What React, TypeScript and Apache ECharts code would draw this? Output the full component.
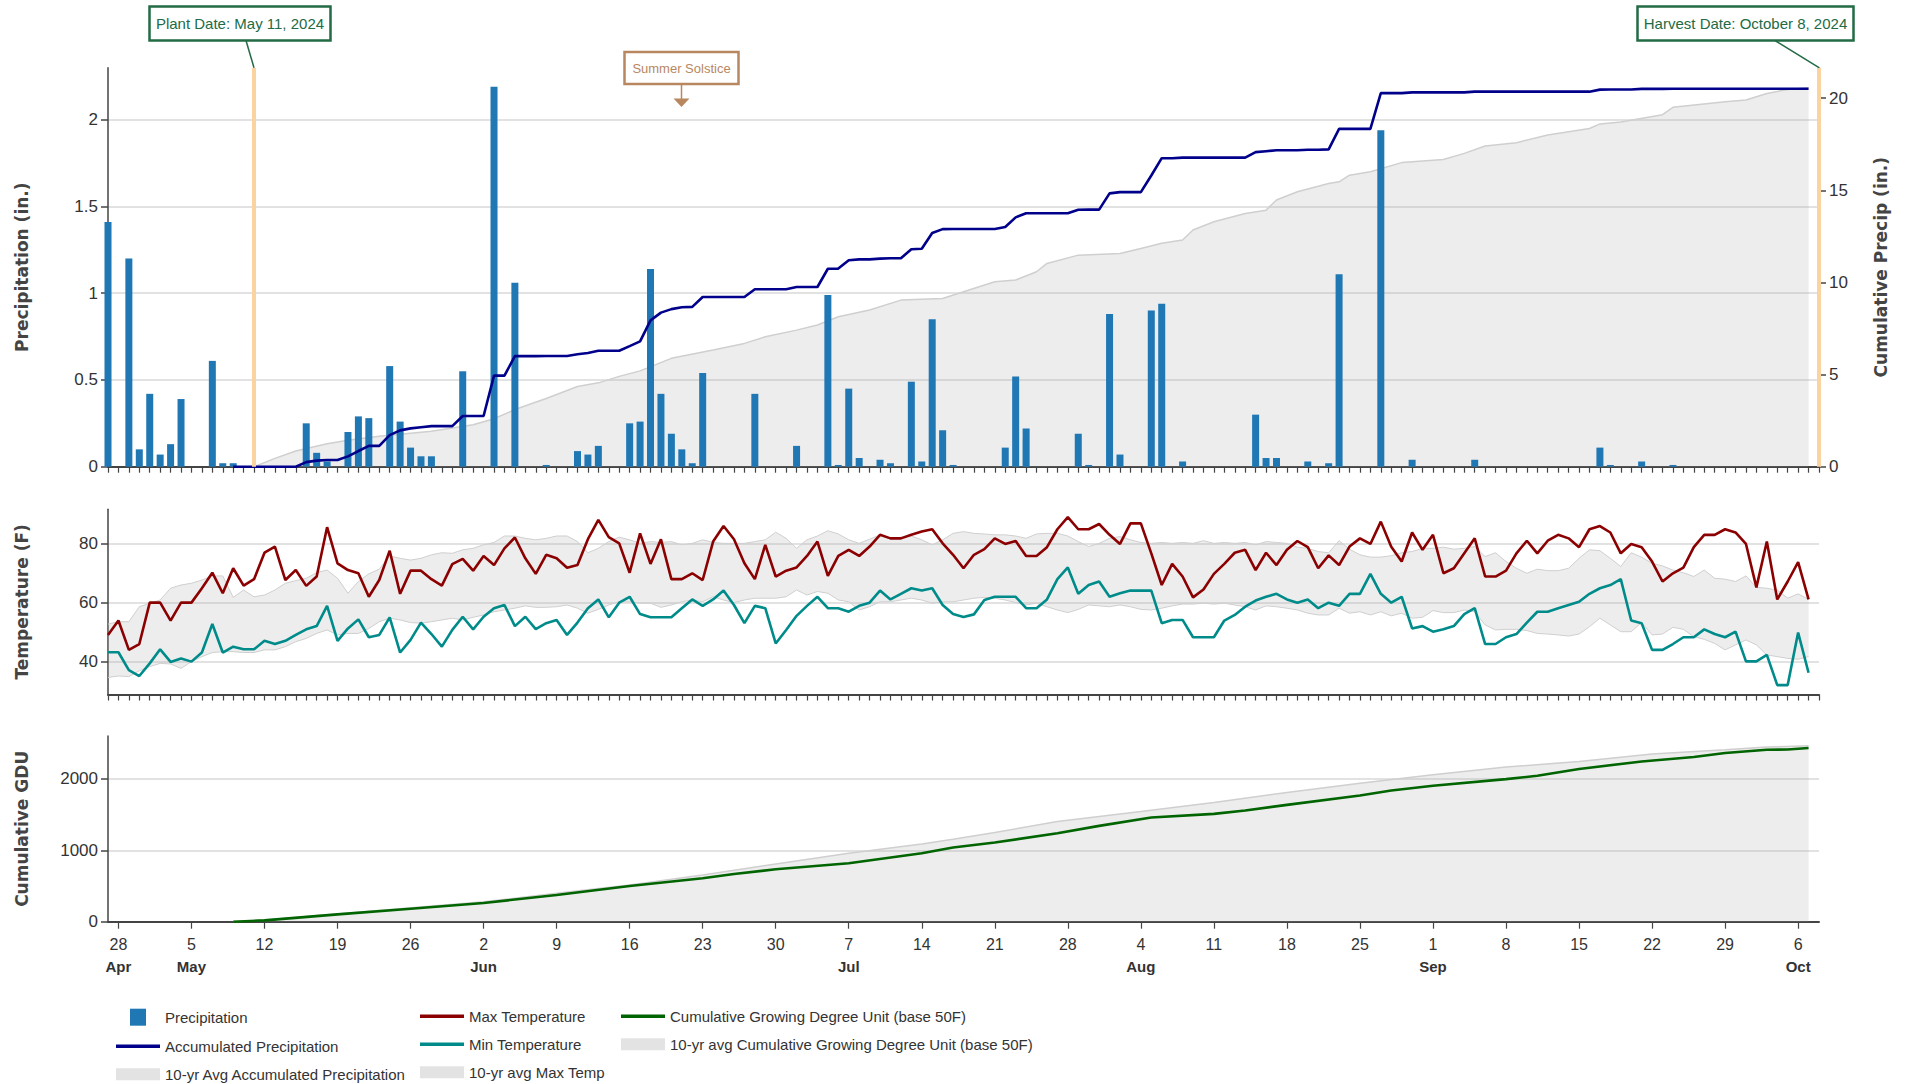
import React, { useEffect, useRef } from "react";
import * as echarts from "echarts";

// ---------- categories (daily, Apr 27 – Oct 8, 2024) ----------
const START_DAY = Date.UTC(2024, 3, 27);
const N_DAYS = 165;
const categories: string[] = Array.from({ length: N_DAYS }, (_, i) =>
  new Date(START_DAY + i * 86400000).toISOString().slice(0, 10)
);
const MONTHS = ["Jan", "Feb", "Mar", "Apr", "May", "Jun", "Jul", "Aug", "Sep", "Oct", "Nov", "Dec"];

// ---------- precipitation panel ----------
const precipitation = [
  1.41, 0, 1.2, 0.1, 0.42, 0.07, 0.13, 0.39, 0, 0,
  0.61, 0.02, 0.02, 0, 0, 0, 0, 0, 0, 0.25,
  0.08, 0.03, 0, 0.2, 0.29, 0.28, 0, 0.58, 0.26, 0.11,
  0.06, 0.06, 0, 0, 0.55, 0, 0, 2.19, 0, 1.06,
  0, 0, 0.01, 0, 0, 0.09, 0.07, 0.12, 0, 0,
  0.25, 0.26, 1.14, 0.42, 0.19, 0.1, 0.02, 0.54, 0, 0,
  0, 0, 0.42, 0, 0, 0, 0.12, 0, 0, 0.99,
  0.01, 0.45, 0.05, 0, 0.04, 0.02, 0, 0.49, 0.03, 0.85,
  0.21, 0.01, 0, 0, 0, 0, 0.11, 0.52, 0.22, 0,
  0, 0, 0, 0.19, 0.01, 0, 0.88, 0.07, 0, 0,
  0.9, 0.94, 0, 0.03, 0, 0, 0, 0, 0, 0,
  0.3, 0.05, 0.05, 0, 0, 0.03, 0, 0.02, 1.11, 0,
  0, 0, 1.94, 0, 0, 0.04, 0, 0, 0, 0,
  0, 0.04, 0, 0, 0, 0, 0, 0, 0, 0,
  0, 0, 0, 0.11, 0.01, 0, 0, 0.03, 0, 0,
  0.01, 0, 0, 0, 0, 0, 0, 0, 0, 0,
  0, 0, 0, 0,
];

const accPrecipStart = 12;
const accPrecipitation = [
  0, 0, 0, 0, 0, 0, 0, 0.25,
  0.33, 0.36, 0.36, 0.56, 0.85, 1.13, 1.13, 1.71, 1.97, 2.08,
  2.14, 2.2, 2.2, 2.2, 2.75, 2.75, 2.75, 4.94, 4.94, 6.0,
  6.0, 6.0, 6.01, 6.01, 6.01, 6.1, 6.17, 6.29, 6.29, 6.29,
  6.54, 6.8, 7.94, 8.36, 8.55, 8.65, 8.67, 9.21, 9.21, 9.21,
  9.21, 9.21, 9.63, 9.63, 9.63, 9.63, 9.75, 9.75, 9.75, 10.74,
  10.75, 11.2, 11.25, 11.25, 11.29, 11.31, 11.31, 11.8, 11.83, 12.68,
  12.89, 12.9, 12.9, 12.9, 12.9, 12.9, 13.01, 13.53, 13.75, 13.75,
  13.75, 13.75, 13.75, 13.94, 13.95, 13.95, 14.83, 14.9, 14.9, 14.9,
  15.8, 16.74, 16.74, 16.77, 16.77, 16.77, 16.77, 16.77, 16.77, 16.77,
  17.07, 17.12, 17.17, 17.17, 17.17, 17.2, 17.2, 17.22, 18.33, 18.33,
  18.33, 18.33, 20.27, 20.27, 20.27, 20.31, 20.31, 20.31, 20.31, 20.31,
  20.31, 20.35, 20.35, 20.35, 20.35, 20.35, 20.35, 20.35, 20.35, 20.35,
  20.35, 20.35, 20.35, 20.46, 20.47, 20.47, 20.47, 20.5, 20.5, 20.5,
  20.51, 20.51, 20.51, 20.51, 20.51, 20.51, 20.51, 20.51, 20.51, 20.51,
  20.51, 20.51, 20.51, 20.51,
];

// [day index, inches]
const avgAccPrecipitation: [number, number][] = [
  [14, 0], [16, 0.45], [18, 0.85], [21, 1.25], [23, 1.43], [26, 1.65], [31, 1.92], [35, 2.28],
  [37, 2.6], [39, 3.1], [42, 3.7], [45, 4.35], [47, 4.55], [49, 4.9], [51, 5.2], [54, 5.88],
  [58, 6.33], [61, 6.69], [63, 7.05], [66, 7.41], [68, 7.69], [70, 8.14], [73, 8.5], [76, 9.04],
  [80, 9.13], [82, 9.49], [85, 10.04], [87, 10.13], [89, 10.58], [90, 11.03], [93, 11.48],
  [97, 11.57], [99, 11.84], [101, 12.12], [103, 12.3], [104, 12.84], [106, 13.29], [109, 13.74],
  [111, 13.92], [112, 14.47], [114, 14.92], [117, 15.37], [118, 15.46], [119, 15.82], [121, 16.0],
  [124, 16.5], [128, 16.67], [130, 17.0], [132, 17.4], [135, 17.58], [138, 18.0], [142, 18.35],
  [143, 18.6], [145, 18.7], [149, 19.1], [150, 19.5], [155, 19.8], [157, 19.9], [159, 20.25],
  [161, 20.47], [163, 20.56],
];

// ---------- temperature panel ----------
const maxTemp = [
  49.0, 53.9, 43.9, 45.9, 60, 60, 53.9, 60, 60, 64.9,
  70.2, 63.2, 71.7, 65.8, 68.0, 77.0, 79.1, 67.7, 71.1, 65.7,
  68.9, 85.7, 73.4, 71.1, 70.0, 62.0, 67.7, 77.7, 63.0, 70.9,
  70.9, 68.0, 65.8, 73.1, 74.9, 70.9, 75.9, 72.8, 78.5, 82.2,
  75.1, 69.8, 76.3, 75.1, 71.9, 72.8, 81.6, 88.2, 82.3, 80.2,
  70.2, 83.6, 73.2, 81.6, 68.0, 68.0, 70.0, 67.7, 80.8, 86.1,
  81.6, 73.4, 68.0, 79.7, 68.9, 70.9, 72.0, 75.9, 80.8, 69.1,
  75.9, 78.0, 75.9, 79.1, 83.1, 81.9, 81.9, 83.1, 84.2, 85.0,
  80.2, 76.3, 71.7, 76.3, 78.2, 81.9, 80.0, 81.0, 75.9, 75.9,
  78.9, 85.0, 89.1, 85.0, 85.0, 86.8, 83.1, 80.0, 87.0, 87.0,
  76.8, 66.0, 73.2, 68.9, 61.8, 64.5, 69.8, 73.2, 77.0, 78.0,
  71.1, 77.0, 72.8, 78.0, 81.0, 78.9, 71.7, 76.1, 72.8, 79.1,
  81.9, 80.0, 87.6, 79.0, 74.0, 83.9, 78.0, 83.1, 70.0, 71.7,
  76.8, 81.9, 68.9, 68.9, 70.9, 76.8, 81.1, 76.8, 81.1, 83.1,
  81.9, 78.9, 85.0, 86.1, 83.9, 76.8, 80.0, 78.9, 74.0, 67.2,
  70.0, 71.9, 78.9, 83.1, 83.1, 85.0, 83.9, 80.0, 65.2, 80.8,
  61.1, 67.2, 73.8, 61.1,
];

const minTemp = [
  43.1, 43.1, 37.0, 35.0, 39.3, 44.1, 39.8, 41.0, 39.9, 43.0,
  52.7, 43.0, 45.0, 44.1, 44.1, 47.0, 45.9, 47.0, 49.0, 50.9,
  52.0, 58.9, 47.0, 51.2, 54.3, 48.2, 49.0, 55.0, 43.0, 47.3,
  53.2, 49.3, 45.0, 50.7, 55.2, 50.9, 55.2, 58.1, 59.2, 52.0,
  55.2, 51.0, 53.0, 54.1, 49.0, 53.2, 58.1, 61.1, 55.0, 60.0,
  62.0, 56.1, 55.0, 55.0, 55.0, 58.1, 61.1, 58.9, 61.1, 64.1,
  59.2, 53.0, 58.9, 58.1, 46.1, 50.7, 55.5, 58.9, 62.0, 58.1,
  58.1, 56.9, 58.9, 60.0, 64.1, 61.1, 63.0, 64.9, 64.1, 64.9,
  59.2, 56.1, 55.1, 56.0, 60.9, 62.0, 62.0, 62.0, 58.1, 58.1,
  61.1, 68.0, 72.0, 63.0, 66.0, 67.2, 62.0, 63.2, 64.1, 64.1,
  64.1, 53.0, 54.1, 54.1, 48.2, 48.2, 48.2, 53.9, 55.8, 58.6,
  60.7, 62.0, 63.0, 61.1, 60.0, 61.1, 58.1, 60.0, 58.9, 63.0,
  63.0, 69.8, 63.0, 60.0, 62.0, 51.2, 52.0, 50.1, 50.9, 52.0,
  56.1, 58.1, 45.9, 45.9, 48.2, 49.3, 53.2, 56.9, 56.9, 58.1,
  59.2, 60.3, 63.0, 64.9, 66.0, 68.0, 53.9, 53.0, 43.9, 43.9,
  45.9, 48.2, 48.2, 50.9, 49.3, 48.2, 50.1, 40.0, 40.0, 42.2,
  31.9, 31.9, 49.8, 36.1,
];

const avgTempUpper = [
  52.7, 53.5, 53.5, 58.6, 59.8, 60.9, 64.9, 66.0, 66.6, 67.7,
  69.1, 69.1, 61.8, 64.3, 62.0, 62.6, 64.3, 66.6, 67.5, 68.3,
  70.2, 71.1, 68.3, 63.2, 67.2, 69.8, 71.4, 75.9, 75.1, 74.5,
  75.1, 76.3, 77.0, 76.8, 78.0, 78.5, 79.7, 80.5, 82.7, 82.7,
  81.9, 81.4, 81.9, 82.7, 82.7, 80.8, 77.0, 78.5, 80.8, 82.3,
  81.4, 80.2, 80.8, 80.5, 80.8, 79.7, 80.2, 81.4, 80.5, 80.2,
  80.2, 80.2, 80.8, 81.4, 84.0, 81.9, 78.5, 81.4, 82.7, 84.5,
  83.4, 81.4, 80.2, 81.6, 83.1, 81.6, 82.3, 82.7, 81.4, 79.7,
  81.4, 83.6, 84.2, 83.6, 83.4, 83.1, 83.1, 82.7, 81.9, 83.4,
  83.6, 83.6, 82.7, 80.8, 79.1, 80.2, 81.9, 82.5, 81.4, 80.5,
  80.2, 80.5, 80.2, 80.5, 80.2, 81.1, 80.2, 80.5, 80.2, 80.5,
  79.7, 80.8, 80.5, 80.2, 78.9, 78.5, 77.4, 77.0, 81.1, 78.2,
  76.3, 75.5, 75.5, 76.0, 77.0, 77.4, 78.5, 78.5, 78.9, 78.2,
  78.5, 79.1, 75.7, 77.0, 74.0, 71.7, 70.0, 71.4, 70.9, 70.9,
  71.7, 75.1, 78.0, 77.7, 75.1, 72.3, 77.0, 75.5, 73.4, 72.5,
  71.1, 70.2, 68.9, 71.1, 68.3, 68.0, 67.2, 69.1, 65.2, 64.9,
  64.3, 61.5, 63.0, 61.1,
];

const avgTempLower = [
  34.5, 35.0, 34.8, 36.8, 38.2, 39.3, 39.1, 37.6, 39.9, 41.6,
  43.0, 43.3, 43.3, 43.0, 43.0, 43.9, 43.9, 45.0, 46.7, 47.8,
  49.5, 50.7, 49.0, 49.5, 49.5, 51.2, 53.5, 54.7, 54.1, 53.2,
  53.0, 53.5, 54.1, 54.7, 54.1, 55.0, 55.8, 56.9, 57.5, 58.1,
  58.9, 58.4, 58.4, 58.6, 59.2, 58.1, 56.4, 57.7, 59.2, 60.3,
  60.3, 59.8, 59.8, 58.4, 59.2, 60.3, 60.9, 60.3, 62.0, 60.9,
  60.0, 60.9, 61.5, 61.5, 61.5, 62.0, 64.3, 62.6, 63.8, 63.2,
  60.9, 60.3, 57.5, 58.6, 60.3, 60.3, 60.9, 61.5, 60.9, 59.8,
  60.3, 60.3, 60.9, 61.5, 61.8, 61.5, 60.9, 60.0, 59.2, 59.8,
  58.6, 57.5, 56.6, 57.7, 59.2, 58.9, 58.6, 59.2, 58.6, 57.7,
  57.5, 58.1, 58.9, 59.5, 59.5, 59.8, 59.5, 59.8, 59.2, 58.6,
  57.5, 58.9, 58.6, 58.1, 57.5, 56.4, 55.8, 55.8, 58.1, 56.4,
  56.9, 55.8, 56.9, 55.5, 56.4, 54.7, 55.0, 57.3, 56.6, 56.6,
  57.5, 56.9, 52.4, 50.7, 50.9, 50.9, 50.5, 49.5, 49.3, 49.0,
  48.6, 49.3, 51.8, 54.7, 52.4, 50.1, 50.1, 53.2, 49.0, 49.3,
  51.6, 50.9, 48.4, 47.5, 46.1, 43.9, 45.6, 47.3, 45.6, 42.2,
  41.6, 41.0, 40.7, 41.6,
];

// ---------- GDU panel: [day index, GDU] ----------
const gdu: [number, number][] = [
  [12, 0], [15, 19], [22, 103], [29, 182], [36, 262], [43, 374], [50, 500], [57, 608], [60, 668],
  [64, 734], [71, 818], [78, 958], [81, 1040], [85, 1108], [91, 1239], [95, 1342], [100, 1459],
  [106, 1510], [109, 1557], [113, 1636], [120, 1767], [123, 1837], [127, 1903], [134, 1996],
  [137, 2043], [141, 2137], [147, 2244], [152, 2305], [155, 2361], [159, 2408], [161, 2410], [163, 2431],
];
const avgGdu: [number, number][] = [
  [12, 0], [15, 23], [36, 280], [43, 397], [50, 514], [57, 654], [64, 808], [71, 958], [78, 1089],
  [81, 1155], [85, 1248], [91, 1403], [99, 1543], [106, 1669], [113, 1809], [120, 1940], [127, 2057],
  [134, 2165], [141, 2244], [148, 2347], [155, 2408], [159, 2445], [163, 2464],
];

// ---------- ticks ----------
const precipTicks = [0, 0.5, 1, 1.5, 2];
const cumPrecipTicks = [0, 5, 10, 15, 20];
const tempTicks = [40, 60, 80];
const gduTicks = [0, 1000, 2000];
const PLANT_INDEX = 14;
const HARVEST_INDEX = 164;

// ---------- styles ----------
const SANS = "'Liberation Sans', Arial, Helvetica, sans-serif";
const TITLE_FONT = "'DejaVu Sans', Verdana, sans-serif";
const AXIS_COLOR = "#444";
const LABEL_COLOR = "#333";
const GRID_COLOR = "#d9d9d9";
const BAND_FILL = "rgba(175,175,175,0.32)";
const BAND_EDGE = "#cfcfcf";
const GREEN = "#226b45";
const BROWN = "#b8875f";
const PEACH = "#fbd3a0";
const LINE_ICON = "path://M0,0H44V3.5H0Z";
const RECT_ICON = "path://M0,0H44V12H0Z";
const SQUARE_ICON = "path://M0,0H16V17H0Z";

const GRID_LEFT = 108;
const GRID_RIGHT = 93;

function yAxisBase(gridIndex: number, ticks: number[], min: number, max: number, name: string, gap: number, right = false) {
  return {
    type: "value",
    gridIndex,
    position: right ? "right" : "left",
    min,
    max,
    name,
    nameLocation: "middle",
    nameRotate: 90,
    nameGap: gap,
    nameTextStyle: { fontFamily: TITLE_FONT, fontWeight: "bold", fontSize: 17, color: "#444" },
    axisLine: { show: true, lineStyle: { color: AXIS_COLOR, width: 1.5 } },
    axisTick: { show: true, length: 7, customValues: ticks, lineStyle: { color: AXIS_COLOR, width: 1.5 } },
    axisLabel: {
      customValues: ticks,
      margin: 10,
      fontFamily: SANS,
      fontSize: 17,
      color: LABEL_COLOR,
      formatter: (v: number) => String(v),
    },
    splitLine: { show: !right, lineStyle: { color: GRID_COLOR, width: 1.5 } },
  };
}

function xAxisBase(gridIndex: number) {
  return {
    type: "category",
    gridIndex,
    data: categories,
    boundaryGap: false,
    axisLine: { show: true, onZero: false, lineStyle: { color: AXIS_COLOR, width: 2 } },
    axisTick: { show: true, interval: 0, length: 6, lineStyle: { color: AXIS_COLOR, width: 1.2 } },
    axisLabel: { show: false },
    splitLine: { show: false },
  };
}

const weekly = (index: number) => index % 7 === 1;

const legendCommon = {
  orient: "vertical",
  top: 1008.7,
  itemWidth: 44,
  itemHeight: 17,
  itemGap: 13,
  padding: 0,
  symbolKeepAspect: true,
  textStyle: { fontFamily: SANS, fontSize: 15, color: LABEL_COLOR },
};

const option: any = {
  animation: false,
  backgroundColor: "#fff",
  grid: [
    { left: GRID_LEFT, right: GRID_RIGHT, top: 67.7, height: 399 },
    { left: GRID_LEFT, right: GRID_RIGHT, top: 509.3, height: 185.2 },
    { left: GRID_LEFT, right: GRID_RIGHT, top: 736, height: 185.7 },
  ],
  xAxis: [
    xAxisBase(0),
    xAxisBase(1),
    {
      ...xAxisBase(2),
      axisTick: { show: true, interval: weekly, length: 7, lineStyle: { color: AXIS_COLOR, width: 1.2 } },
      axisLabel: {
        show: true,
        interval: weekly,
        margin: 12,
        color: LABEL_COLOR,
        fontFamily: SANS,
        formatter: (value: string, index: number) => {
          const day = Number(value.slice(8, 10));
          const month = MONTHS[Number(value.slice(5, 7)) - 1];
          return index === 1 || day <= 7 ? `{d|${day}}\n{m|${month}}` : `{d|${day}}`;
        },
        rich: {
          d: { fontFamily: SANS, fontSize: 16, lineHeight: 22, color: LABEL_COLOR },
          m: { fontFamily: SANS, fontSize: 15, fontWeight: "bold", lineHeight: 22, color: LABEL_COLOR },
        },
      },
    },
  ],
  yAxis: [
    yAxisBase(0, precipTicks, 0, 2.3, "Precipitation (in.)", 78),
    yAxisBase(0, cumPrecipTicks, 0, 21.65, "Cumulative Precip (in.)", 53, true),
    yAxisBase(1, tempTicks, 28.7, 91.8, "Temperature (F)", 78),
    yAxisBase(2, gduTicks, 0, 2600, "Cumulative GDU", 78),
  ],
  legend: [
    {
      ...legendCommon,
      left: 116,
      data: [
        { name: "Precipitation", icon: SQUARE_ICON, itemStyle: { color: "#1f77b4", borderWidth: 0 } },
        { name: "Accumulated Precipitation", icon: LINE_ICON, itemStyle: { color: "#00008b", borderWidth: 0 } },
        { name: "10-yr Avg Accumulated Precipitation", icon: RECT_ICON, itemStyle: { color: "#e3e3e3", borderWidth: 0 } },
      ],
    },
    {
      ...legendCommon,
      left: 420,
      data: [
        { name: "Max Temperature", icon: LINE_ICON, itemStyle: { color: "#8b0000", borderWidth: 0 } },
        { name: "Min Temperature", icon: LINE_ICON, itemStyle: { color: "#008b8b", borderWidth: 0 } },
        { name: "10-yr avg Max Temp", icon: RECT_ICON, itemStyle: { color: "#e3e3e3", borderWidth: 0 } },
      ],
    },
    {
      ...legendCommon,
      left: 621,
      data: [
        { name: "Cumulative Growing Degree Unit (base 50F)", icon: LINE_ICON, itemStyle: { color: "#006400", borderWidth: 0 } },
        { name: "10-yr avg Cumulative Growing Degree Unit (base 50F)", icon: RECT_ICON, itemStyle: { color: "#e3e3e3", borderWidth: 0 } },
      ],
    },
  ],
  series: [
    {
      name: "10-yr Avg Accumulated Precipitation",
      type: "line",
      xAxisIndex: 0,
      yAxisIndex: 1,
      data: avgAccPrecipitation,
      symbol: "none",
      silent: true,
      z: 1,
      itemStyle: { color: "#e3e3e3" },
      lineStyle: { color: BAND_EDGE, width: 1.5 },
      areaStyle: { color: BAND_FILL, origin: "start" },
    },
    {
      name: "Precipitation",
      type: "bar",
      xAxisIndex: 0,
      yAxisIndex: 0,
      data: precipitation,
      barWidth: 7,
      z: 2,
      itemStyle: { color: "#1f77b4" },
      markLine: {
        silent: true,
        symbol: ["none", "none"],
        label: { show: false },
        lineStyle: { color: PEACH, width: 4, type: "solid", opacity: 1 },
        data: [{ xAxis: categories[PLANT_INDEX] }, { xAxis: categories[HARVEST_INDEX] }],
      },
    },
    {
      name: "Accumulated Precipitation",
      type: "line",
      xAxisIndex: 0,
      yAxisIndex: 1,
      data: accPrecipitation.map((v, i) => [accPrecipStart + i, v]),
      symbol: "none",
      z: 3,
      itemStyle: { color: "#00008b" },
      lineStyle: { color: "#00008b", width: 2.6 },
    },
    {
      name: "tempBandLower",
      type: "line",
      xAxisIndex: 1,
      yAxisIndex: 2,
      stack: "tband",
      data: avgTempLower,
      symbol: "none",
      silent: true,
      z: 1,
      lineStyle: { color: BAND_EDGE, width: 1 },
    },
    {
      name: "10-yr avg Max Temp",
      type: "line",
      xAxisIndex: 1,
      yAxisIndex: 2,
      stack: "tband",
      data: avgTempUpper.map((u, i) => +(u - avgTempLower[i]).toFixed(2)),
      symbol: "none",
      silent: true,
      z: 1,
      itemStyle: { color: "#e3e3e3" },
      lineStyle: { color: BAND_EDGE, width: 1 },
      areaStyle: { color: BAND_FILL },
    },
    {
      name: "Max Temperature",
      type: "line",
      xAxisIndex: 1,
      yAxisIndex: 2,
      data: maxTemp,
      symbol: "none",
      z: 3,
      itemStyle: { color: "#8b0000" },
      lineStyle: { color: "#8b0000", width: 2.6 },
    },
    {
      name: "Min Temperature",
      type: "line",
      xAxisIndex: 1,
      yAxisIndex: 2,
      data: minTemp,
      symbol: "none",
      z: 3,
      itemStyle: { color: "#008b8b" },
      lineStyle: { color: "#008b8b", width: 2.6 },
    },
    {
      name: "10-yr avg Cumulative Growing Degree Unit (base 50F)",
      type: "line",
      xAxisIndex: 2,
      yAxisIndex: 3,
      data: avgGdu,
      symbol: "none",
      silent: true,
      z: 1,
      itemStyle: { color: "#e3e3e3" },
      lineStyle: { color: BAND_EDGE, width: 1.5 },
      areaStyle: { color: BAND_FILL, origin: "start" },
    },
    {
      name: "Cumulative Growing Degree Unit (base 50F)",
      type: "line",
      xAxisIndex: 2,
      yAxisIndex: 3,
      data: gdu,
      symbol: "none",
      z: 3,
      itemStyle: { color: "#006400" },
      lineStyle: { color: "#006400", width: 2.6 },
    },
  ],
  graphic: [
    // Plant date annotation
    { type: "line", z: 100, silent: true, shape: { x1: 246, y1: 40.5, x2: 254, y2: 67.7 }, style: { stroke: GREEN, lineWidth: 1.5 } },
    { type: "rect", z: 100, silent: true, shape: { x: 149.5, y: 6.5, width: 181, height: 34 }, style: { fill: "#fff", stroke: GREEN, lineWidth: 2.5 } },
    {
      type: "text", z: 101, silent: true, x: 240, y: 23.5,
      style: { text: "Plant Date: May 11, 2024", fill: GREEN, fontFamily: SANS, fontSize: 15, align: "center", verticalAlign: "middle", textAlign: "center", textVerticalAlign: "middle" },
    },
    // Harvest date annotation
    { type: "line", z: 100, silent: true, shape: { x1: 1775, y1: 40.5, x2: 1819, y2: 67.7 }, style: { stroke: GREEN, lineWidth: 1.5 } },
    { type: "rect", z: 100, silent: true, shape: { x: 1637.5, y: 6.5, width: 216, height: 34 }, style: { fill: "#fff", stroke: GREEN, lineWidth: 2.5 } },
    {
      type: "text", z: 101, silent: true, x: 1745.5, y: 23.5,
      style: { text: "Harvest Date: October 8, 2024", fill: GREEN, fontFamily: SANS, fontSize: 15, align: "center", verticalAlign: "middle", textAlign: "center", textVerticalAlign: "middle" },
    },
    // Summer solstice annotation
    { type: "rect", z: 100, silent: true, shape: { x: 624.5, y: 52, width: 114, height: 32 }, style: { fill: "#fff", stroke: BROWN, lineWidth: 2.5 } },
    {
      type: "text", z: 101, silent: true, x: 681.5, y: 68,
      style: { text: "Summer Solstice", fill: BROWN, fontFamily: SANS, fontSize: 13, align: "center", verticalAlign: "middle", textAlign: "center", textVerticalAlign: "middle" },
    },
    { type: "line", z: 100, silent: true, shape: { x1: 681.5, y1: 84, x2: 681.5, y2: 99 }, style: { stroke: BROWN, lineWidth: 1.5 } },
    { type: "polygon", z: 100, silent: true, shape: { points: [[673.5, 98.5], [689.5, 98.5], [681.5, 107]] }, style: { fill: BROWN } },
  ],
};

export default function App() {
  const ref = useRef<HTMLDivElement>(null);
  useEffect(() => {
    document.body.style.margin = "0";
    document.body.style.overflow = "hidden";
    if (!ref.current) return;
    const chart = echarts.init(ref.current, null, { renderer: "svg" });
    chart.setOption(option);
    return () => {
      chart.dispose();
    };
  }, []);
  return <div ref={ref} style={{ width: 1912, height: 1084, background: "#fff" }} />;
}
